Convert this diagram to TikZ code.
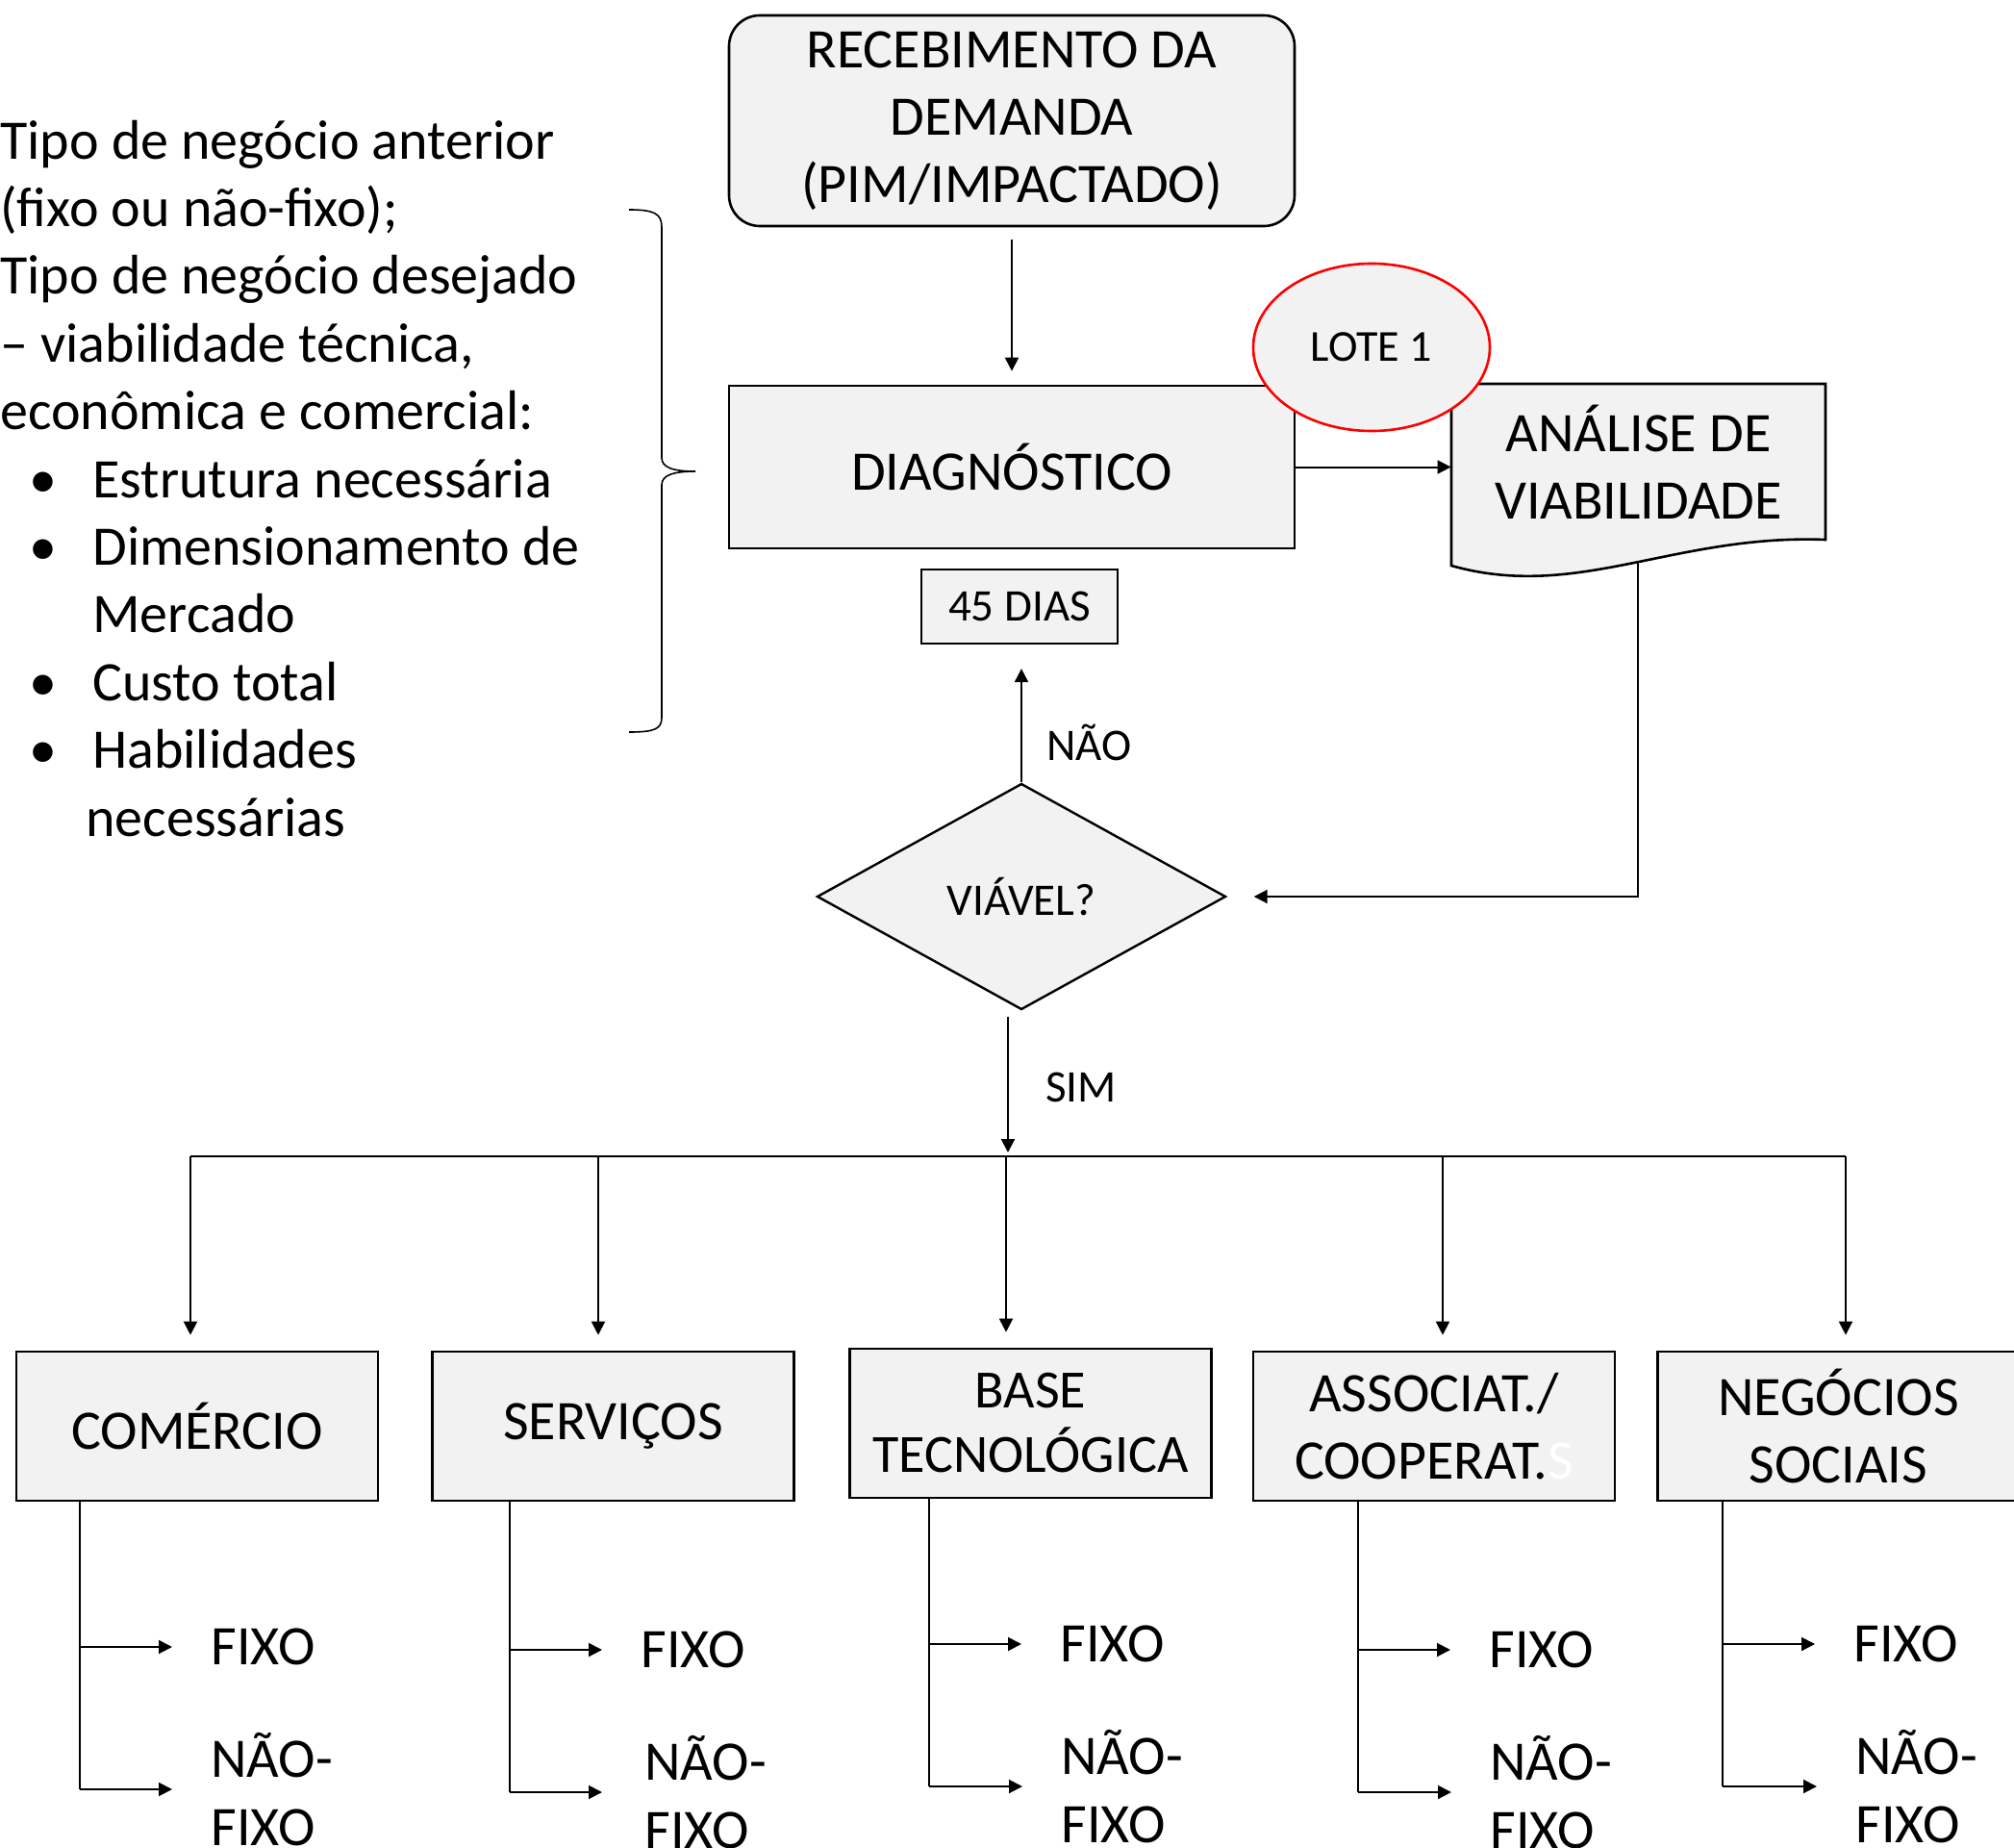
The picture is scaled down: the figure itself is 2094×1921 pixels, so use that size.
\documentclass[tikz,border=0pt]{standalone}
\usepackage{fontspec}
\setmainfont{Carlito}
\usetikzlibrary{shapes.geometric,arrows.meta}
\definecolor{boxgray}{HTML}{F2F2F2}
\definecolor{lotered}{HTML}{FF0000}
\newcommand{\bitem}[1]{\makebox[48pt][l]{\hspace*{15pt}\textbullet}#1}
\tikzset{
  box/.style={draw, fill=boxgray, line width=1.3pt, align=center, inner sep=0pt, font=\fontsize{29}{35}\selectfont},
  small/.style={font=\fontsize{23.5}{28}\selectfont, inner sep=0pt},
  lbl/.style={font=\fontsize{29}{35.2}\selectfont, inner sep=0pt},
  arr/.style={-{Triangle[length=7pt,width=7pt]}, line width=1pt},
  stem/.style={line width=0.8pt},
}
\begin{document}
\begin{tikzpicture}[x=0.5pt, y=-0.5pt]
  \useasboundingbox (0,0) rectangle (2094,1921);
  \clip (0,0) rectangle (2094,1921);
  % criteria text and brace
  \node[lbl, anchor=base west, align=left] (criterios) at (0,869) {Tipo de negócio anterior\\
    (fixo ou não-fixo);\\
    Tipo de negócio desejado\\
    – viabilidade técnica,\\
    econômica e comercial:\\
    \bitem{Estrutura necessária}\\
    \bitem{Dimensionamento de}\\
    \hspace*{48pt}Mercado\\
    \bitem{Custo total}\\
    \bitem{Habilidades}\\
    \hspace*{44.5pt}necessárias};
  \draw[stem] (654,218) .. controls (680,218) and (688,222) .. (688,236) -- (688,476)
    .. controls (688,486) and (700,490) .. (723,490)
    .. controls (700,490) and (688,494) .. (688,504) -- (688,746)
    .. controls (688,758) and (680,761) .. (654,761);
  % main flow
  \node[box, rounded corners=16pt, minimum width=294pt, minimum height=109.5pt] (receb) at (1052,125.5) {RECEBIMENTO DA\\DEMANDA\\(PIM/IMPACTADO)};
  \node[box, minimum width=294pt, minimum height=84.5pt] (diag) at (1052,485.5) {DIAGNÓSTICO};
  \draw[box] (1509,399) -- (1898,399) -- (1898,561)
    .. controls (1740,555) and (1640,625) .. (1509,588) -- cycle;
  \node[lbl, align=center, minimum width=194.5pt, minimum height=81pt] (analise) at (1703.5,480) {ANÁLISE DE\\VIABILIDADE};
  \node[box, ellipse, draw=lotered, minimum width=123pt, minimum height=87pt, font=\fontsize{23}{28}\selectfont] (lote) at (1426,361) {LOTE 1};
  \node[box, line width=1.1pt, minimum width=102pt, minimum height=38.5pt, font=\fontsize{23.5}{28}\selectfont] (dias) at (1060,630.5) {45 DIAS};
  \node[box, diamond, line width=1.2pt, minimum width=212.5pt, minimum height=117.5pt, font=\fontsize{23.5}{28}\selectfont] (viavel) at (1062,932) {VIÁVEL?};
  \coordinate (anbot) at (1703,585);
  \draw[arr, shorten <=6.5pt, shorten >=7pt] (receb.south) -- (diag.north);
  \draw[arr] (diag.east) -- (diag.east -| analise.west);
  \draw[arr, shorten >=14pt] (anbot) |- (viavel.east);
  \draw[arr, shorten >=12.5pt] (viavel.north) -- (viavel.north |- dias.south);
  \node[small, anchor=west] (nao) at (1088,772) {NÃO};
  \node[small, anchor=west] (sim) at (1087,1130) {SIM};
  % branches
  \coordinate (bsim) at (1048,1202);
  \coordinate (b1) at (198,1202);
  \coordinate (b2) at (622,1202);
  \coordinate (b3) at (1046,1202);
  \coordinate (b4) at (1500,1202);
  \coordinate (b5) at (1919,1202);
  \draw[arr, shorten <=3pt, shorten >=2pt] (viavel.south -| bsim) -- (bsim);
  \draw[line width=1pt] (b1) -- (b5);
  \node[box, minimum width=188pt, minimum height=77.5pt] (com) at (205,1482.5) {COMÉRCIO};
  \node[box, minimum width=188pt, minimum height=77.5pt] (serv) at (637.5,1482.5) {SERVIÇOS};
  \node[box, minimum width=188pt, minimum height=77.5pt, font=\fontsize{28}{33.5}\selectfont] (base) at (1071.5,1479.5) {BASE\\TECNOLÓGICA};
  \node[box, minimum width=188pt, minimum height=77.5pt] (assoc) at (1491,1482.5) {ASSOCIAT./\\COOPERAT.{\color{white}S}};
  \node[box, minimum width=188pt, minimum height=77.5pt] (neg) at (1911.5,1482.5) {NEGÓCIOS\\SOCIAIS};
  \draw[arr, shorten >=8pt] (b1) -- (b1 |- com.north);
  \draw[arr, shorten >=8pt] (b2) -- (b2 |- serv.north);
  \draw[arr, shorten >=8pt] (b3) -- (b3 |- base.north);
  \draw[arr, shorten >=8pt] (b4) -- (b4 |- assoc.north);
  \draw[arr, shorten >=8pt] (b5) -- (b5 |- neg.north);
  % COMÉRCIO
  \node[lbl, anchor=west] (fx1) at (219,1712) {FIXO};
  \node[lbl, anchor=west, align=left] (nf1) at (219,1860) {NÃO-\\FIXO};
  \coordinate (t1) at (83,1712);
  \draw[stem] (com.south -| t1) -- (t1 |- nf1.west);
  \draw[arr, shorten >=20pt] (t1) -- (fx1.west);
  \draw[arr, shorten >=20pt] (t1 |- nf1.west) -- (nf1.west);
  % SERVIÇOS
  \node[lbl, anchor=west] (fx2) at (666,1715) {FIXO};
  \node[lbl, anchor=west, align=left] (nf2) at (670,1863) {NÃO-\\FIXO};
  \coordinate (t2) at (530,1715);
  \draw[stem] (serv.south -| t2) -- (t2 |- nf2.west);
  \draw[arr, shorten >=20pt] (t2) -- (fx2.west);
  \draw[arr, shorten >=22pt] (t2 |- nf2.west) -- (nf2.west);
  % BASE TECNOLÓGICA
  \node[lbl, anchor=west] (fx3) at (1102,1709) {FIXO};
  \node[lbl, anchor=west, align=left] (nf3) at (1103,1857) {NÃO-\\FIXO};
  \coordinate (t3) at (966,1709);
  \draw[stem] (base.south -| t3) -- (t3 |- nf3.west);
  \draw[arr, shorten >=20pt] (t3) -- (fx3.west);
  \draw[arr, shorten >=20pt] (t3 |- nf3.west) -- (nf3.west);
  % ASSOCIAT./COOPERAT.
  \node[lbl, anchor=west] (fx4) at (1548,1715) {FIXO};
  \node[lbl, anchor=west, align=left] (nf4) at (1549,1863) {NÃO-\\FIXO};
  \coordinate (t4) at (1412,1715);
  \draw[stem] (assoc.south -| t4) -- (t4 |- nf4.west);
  \draw[arr, shorten >=20pt] (t4) -- (fx4.west);
  \draw[arr, shorten >=20pt] (t4 |- nf4.west) -- (nf4.west);
  % NEGÓCIOS SOCIAIS
  \node[lbl, anchor=west] (fx5) at (1927,1709) {FIXO};
  \node[lbl, anchor=west, align=left] (nf5) at (1929,1857) {NÃO-\\FIXO};
  \coordinate (t5) at (1791,1709);
  \draw[stem] (neg.south -| t5) -- (t5 |- nf5.west);
  \draw[arr, shorten >=20pt] (t5) -- (fx5.west);
  \draw[arr, shorten >=20pt] (t5 |- nf5.west) -- (nf5.west);
\end{tikzpicture}
\end{document}
